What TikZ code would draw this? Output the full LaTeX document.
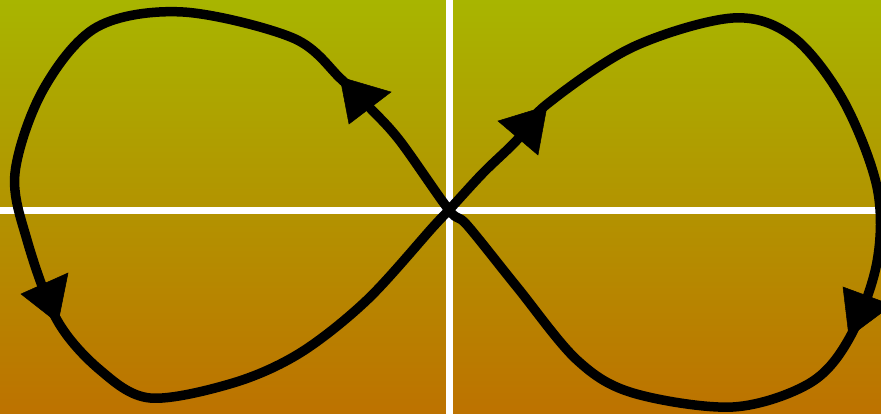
\documentclass[tikz,border=0pt]{standalone}
\definecolor{topc}{RGB}{168,181,0}
\definecolor{botc}{RGB}{189,114,0}
\tikzset{
  curve/.style={line width=9.5pt, line join=round, line cap=round},
  head/.style={fill=black, draw=black, line width=0.5pt, line join=miter},
  guide/.style={white, line width=7pt}
}
\begin{document}
\begin{tikzpicture}[x=1pt,y=-1pt]
\useasboundingbox (0,0) rectangle (881,414);
\shade[top color=topc, bottom color=botc] (0,0) rectangle (881,414);
\draw[guide] (449,0) -- (449,414);
\draw[guide] (0,210.5) -- (881,210.5);
\draw[curve] plot[smooth cycle, tension=0.55] coordinates {
 (449,210) (400,141) (370,108) (341,79) (293,38)
 (183,12) (97,27) (43,90) (15,173) (27,240) (57,320)
 (100,370) (150,398) (233,383) (300,353) (367,300) (433,227) (449,210)
 (483,173) (517,140) (546,105) (633,47) (733,18) (793,37)
 (843,100) (877,187) (877,262) (850,337) (810,383) (733,407) (633,393)
 (577,360) (517,287) (467,225)};
\fill[head] (340,77) -- (391,92) -- (349,124) -- cycle;
\fill[head] (547,106) -- (498,121) -- (538,155) -- cycle;
\fill[head] (58,323) -- (21,294) -- (68,273) -- cycle;
\fill[head] (849,337) -- (843,287) -- (892,305) -- cycle;
\end{tikzpicture}
\end{document}
